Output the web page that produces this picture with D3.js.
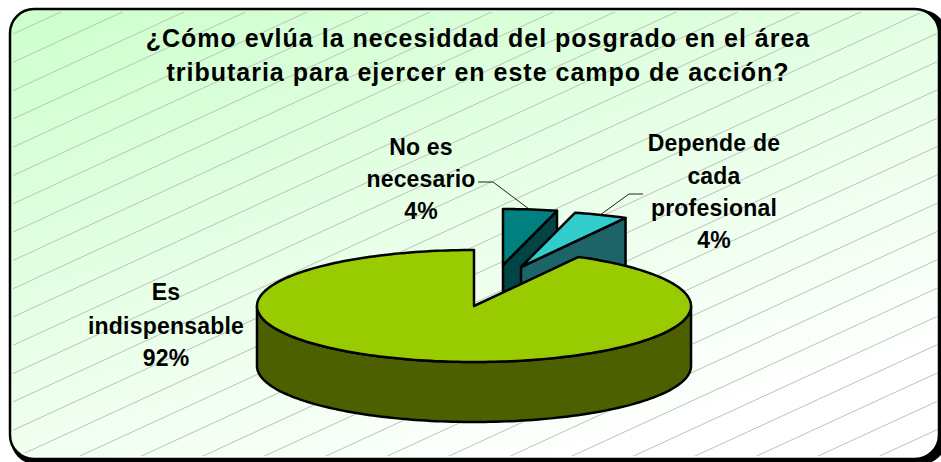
<!DOCTYPE html>
<html>
<head>
<meta charset="utf-8">
<script src="https://cdn.jsdelivr.net/npm/d3@7"></script>
<style>
	html, body { margin: 0; padding: 0; background: #fff; overflow: hidden; }
	text { font-family: "Liberation Sans", Arial, sans-serif; font-weight: bold; fill: #000; }
</style>
</head>
<body>
<div id="chart"></div>
<script>
const categories = ["No es necesario", "Depende de cada profesional", "Es indispensable"];
const percents = [4, 4, 92];
const percentLabels = ["4%", "4%", "92%"];
const titleLines = [
	"¿Cómo evlúa la necesiddad del posgrado en el área",
	"tributaria para ejercer en este campo de acción?",
];

const FWIDTH = 941,
	FHEIGHT = 462;

// pie geometry
const CX = 474,
	CY = 306,
	RX = 217,
	RY = 56,
	DEPTH = 60;
const topColors = ["#008080", "#33cccc", "#99cc00"];
const sideColors = ["#004444", "#1d6468", "#4d6000"];
// pulled out slices
const offsets = [
	[29, -41],
	[47, -39],
	[0, 0],
];
const labelLines = [
	{ x: 421, ys: [155, 187, 219], lines: ["No es", "necesario", percentLabels[0]] },
	{ x: 714, ys: [151, 184, 216, 248], lines: ["Depende de", "cada", "profesional", percentLabels[1]] },
	{ x: 166, ys: [300, 334, 366], lines: ["Es", "indispensable", percentLabels[2]] },
];

const svg = d3
	.select("#chart")
	.append("svg")
	.attr("width", FWIDTH)
	.attr("height", FHEIGHT)
	.style("display", "block");

const defs = svg.append("defs");
const grad = defs
	.append("linearGradient")
	.attr("id", "bg")
	.attr("x1", "0%")
	.attr("y1", "0%")
	.attr("x2", "62%")
	.attr("y2", "100%");
grad.append("stop").attr("offset", "0%").attr("stop-color", "#ccffcc");
grad.append("stop").attr("offset", "100%").attr("stop-color", "#ffffff");

defs.append("clipPath")
	.attr("id", "inner")
	.append("rect")
	.attr("x", 13)
	.attr("y", 12)
	.attr("width", 924)
	.attr("height", 444)
	.attr("rx", 22);

// shadow of the frame
svg.append("rect")
	.attr("x", 11)
	.attr("y", 10)
	.attr("width", 935)
	.attr("height", 454)
	.attr("rx", 24)
	.attr("fill", "#000");

// frame
svg.append("rect")
	.attr("x", 10)
	.attr("y", 9)
	.attr("width", 929)
	.attr("height", 450)
	.attr("rx", 24)
	.attr("fill", "url(#bg)")
	.attr("stroke", "#000")
	.attr("stroke-width", 2.5);

// hatching
svg.append("g")
	.attr("clip-path", "url(#inner)")
	.selectAll("line")
	.data(d3.range(-20, 40))
	.join("line")
	.attr("x1", 0)
	.attr("x2", FWIDTH)
	.attr("y1", (d) => 40 + d * 28.3)
	.attr("y2", (d) => 40 + d * 28.3 - FWIDTH * 0.46)
	.attr("stroke", "#b9c4b9")
	.attr("stroke-width", 1);

// title
svg.append("g")
	.selectAll("text")
	.data(titleLines)
	.join("text")
	.attr("x", 478)
	.attr("y", (d, i) => 47 + i * 34)
	.attr("text-anchor", "middle")
	.style("font-size", "25px")
	.style("letter-spacing", "1px")
	.text((d) => d);

// angles from d3.pie, clockwise from 12 o'clock
const arcs = d3.pie().sort(null)(percents);

const pt = (a, i, drop = 0) => [
	CX + offsets[i][0] + RX * Math.sin(a),
	CY + offsets[i][1] - RY * Math.cos(a) + drop,
];

function arcPoints(a0, a1, i, drop = 0) {
	const n = Math.max(2, Math.ceil(Math.abs(a1 - a0) * 40));
	return d3.range(n + 1).map((k) => pt(a0 + ((a1 - a0) * k) / n, i, drop));
}

const line = d3.line();
const pies = svg.append("g").attr("stroke", "#000").attr("stroke-width", 2.5).attr("stroke-linejoin", "round");

function drawSlice(i) {
	const a = arcs[i];
	const c = [CX + offsets[i][0], CY + offsets[i][1]];
	const lo = Math.max(a.startAngle, Math.PI / 2);
	const hi = Math.min(a.endAngle, (3 * Math.PI) / 2);

	// cut face that looks to the viewer (small back slices only)
	if (a.endAngle < Math.PI / 2) {
		const e = pt(a.endAngle, i);
		pies.append("path")
			.attr("d", line([c, e, [e[0], e[1] + DEPTH], [c[0], c[1] + DEPTH]]) + "Z")
			.attr("fill", sideColors[i]);
	}
	// rim
	if (hi > lo) {
		const rim = arcPoints(lo, hi, i).concat(arcPoints(hi, lo, i, DEPTH));
		pies.append("path").attr("d", line(rim) + "Z").attr("fill", sideColors[i]);
	}
	// top
	const top = [c].concat(arcPoints(a.startAngle, a.endAngle, i));
	pies.append("path").attr("d", line(top) + "Z").attr("fill", topColors[i]);
}

categories.forEach((d, i) => drawSlice(i));

// leader lines
const leaders = [
	[[478, 182], [493, 182], [529, 209]],
	[[643, 194], [629, 194], [600, 215]],
];
svg.append("g")
	.selectAll("path")
	.data(leaders)
	.join("path")
	.attr("d", (d) => line(d))
	.attr("fill", "none")
	.attr("stroke", "#222")
	.attr("stroke-width", 1);

// labels
labelLines.forEach((l) => {
	svg.append("g")
		.selectAll("text")
		.data(l.lines)
		.join("text")
		.attr("x", l.x)
		.attr("y", (d, i) => l.ys[i])
		.attr("text-anchor", "middle")
		.style("font-size", "23px")
		.style("letter-spacing", "0.2px")
		.text((d) => d);
});
</script>
</body>
</html>
